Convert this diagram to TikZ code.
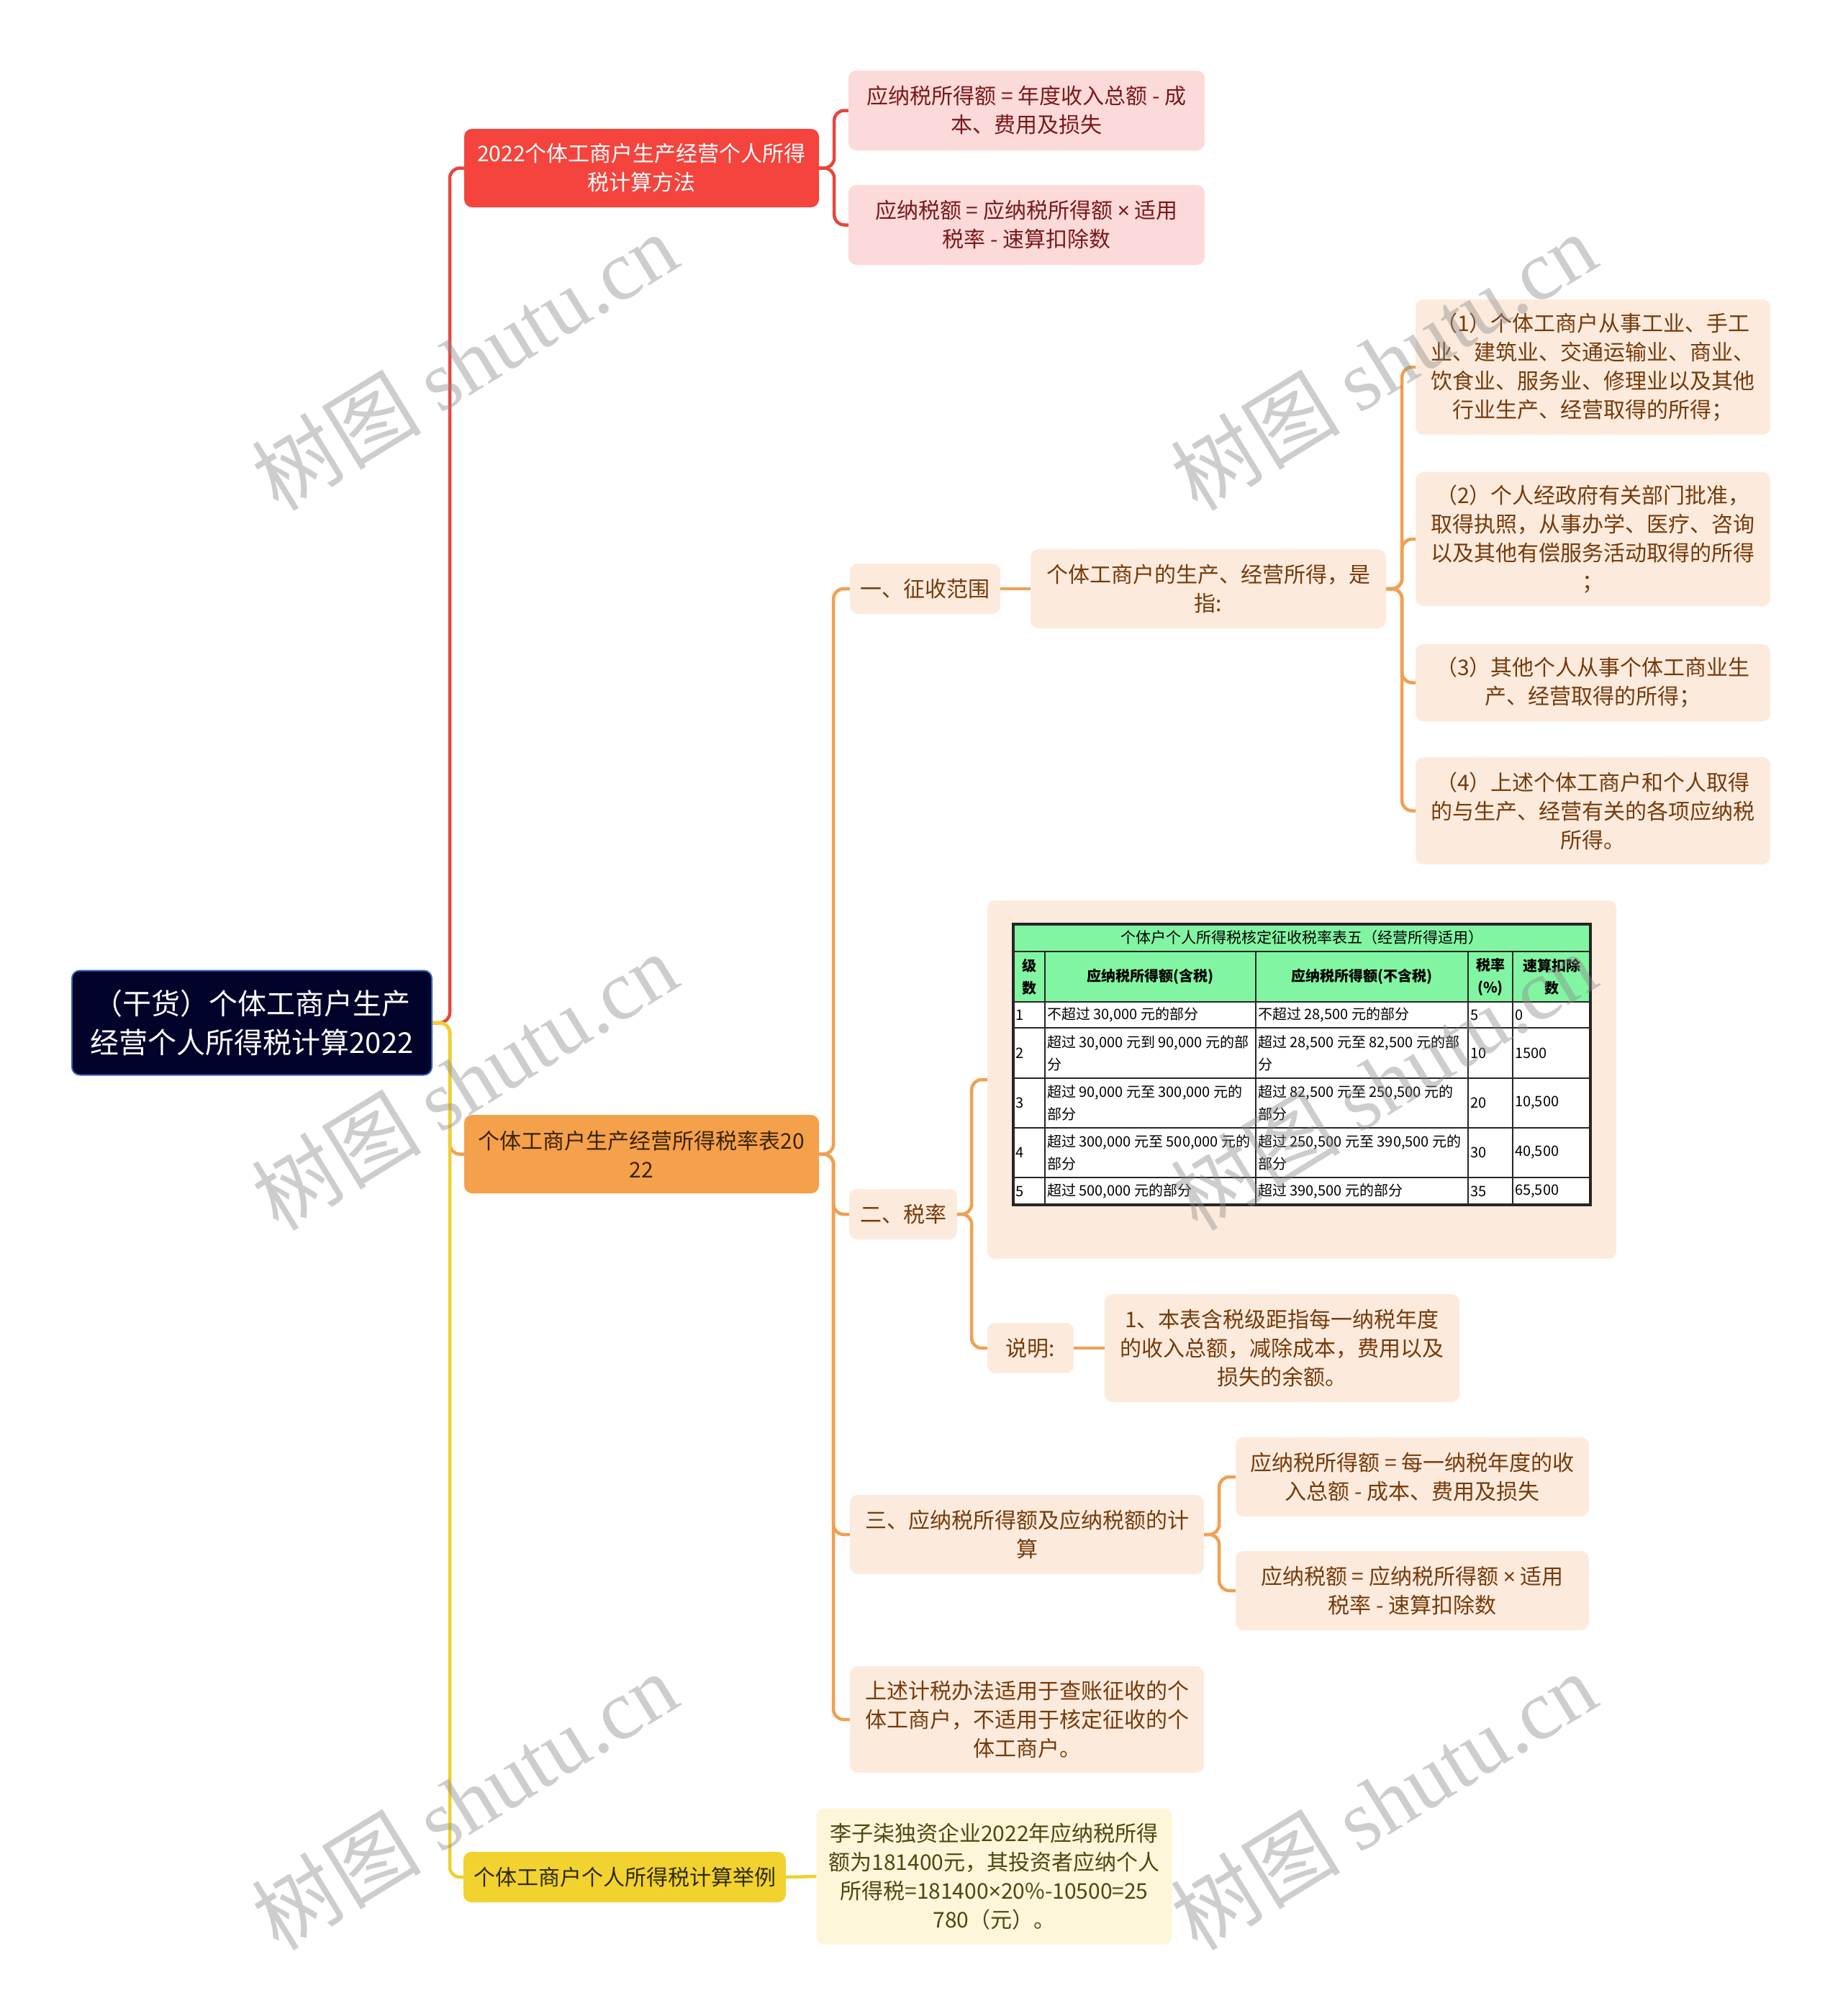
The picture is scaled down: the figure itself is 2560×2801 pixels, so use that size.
\documentclass[tikz,border=0pt]{standalone}
\usepackage{fontspec}
\setmainfont{Noto Sans CJK SC}
\newfontfamily\wmserif{Liberation Serif}
\newfontfamily\latn{Noto Sans}
\definecolor{rootc}{HTML}{02032A}
\definecolor{rootb}{HTML}{3563B8}
\definecolor{redc}{HTML}{F4443D}
\definecolor{redl}{HTML}{E8453E}
\definecolor{pinkc}{HTML}{FDDADA}
\definecolor{pinkt}{HTML}{7A1818}
\definecolor{orgc}{HTML}{F5A04B}
\definecolor{orgl}{HTML}{F0A052}
\definecolor{orgt}{HTML}{3A2308}
\definecolor{peachc}{HTML}{FCEBDC}
\definecolor{peacht}{HTML}{763A0C}
\definecolor{yelc}{HTML}{F2D22E}
\definecolor{yell}{HTML}{EDD12C}
\definecolor{yelt}{HTML}{2E2A05}
\definecolor{ylc}{HTML}{FDF6D8}
\definecolor{ylt}{HTML}{4E4712}
\definecolor{tgreen}{HTML}{82F5A2}
\definecolor{wmgray}{HTML}{8A8A8A}
\tikzset{
  nbox/.style={rounded corners=11pt, align=center, inner sep=0pt, font=\fontsize{30}{40}\selectfont},
  rootbox/.style={nbox, fill=rootc, draw=rootb, line width=2pt, text=white, font=\fontsize{40}{54}\selectfont},
  redbox/.style={nbox, fill=redc, text=white},
  pinkbox/.style={nbox, fill=pinkc, text=pinkt},
  orgbox/.style={nbox, fill=orgc, text=orgt},
  peachbox/.style={nbox, fill=peachc, text=peacht},
  yelbox/.style={nbox, fill=yelc, text=yelt},
  ylbox/.style={nbox, fill=ylc, text=ylt},
  redln/.style={draw=redl, line width=4.5pt, rounded corners=14pt},
  orgln/.style={draw=orgl, line width=4.5pt, rounded corners=14pt},
  yelln/.style={draw=yell, line width=4.5pt, rounded corners=14pt},
  tdat/.style={anchor=west, align=left, inner sep=0pt, text=black, font=\fontsize{20}{31}\selectfont},
  thead/.style={anchor=center, align=center, inner sep=0pt, text=black, font=\bfseries\fontsize{20}{31}\selectfont},
  wm/.style={text=wmgray, opacity=0.42, inner sep=0pt, rotate=31.5, font=\fontsize{118}{118}\selectfont}
}
\begin{document}
\begin{tikzpicture}[x=1pt,y=-1pt]
\useasboundingbox[fill=white] (0,0) rectangle (2560,2801);

% ---------- nodes ----------
\node[rootbox, minimum width=500pt, minimum height=145pt] (root) at (350,1421) {（干货）个体工商户生产\\经营个人所得税计算2022};

\node[redbox, minimum width=493pt, minimum height=109pt] (red) at (891.5,233.5) {2022个体工商户生产经营个人所得\\税计算方法};
\node[pinkbox, minimum width=495pt, minimum height=111pt] (pinkA) at (1426.5,153.5) {应纳税所得额 = 年度收入总额 - 成\\本、费用及损失};
\node[pinkbox, minimum width=495pt, minimum height=111pt] (pinkB) at (1426.5,312.5) {应纳税额 = 应纳税所得额 {\latn ×} 适用\\税率 - 速算扣除数};

\node[orgbox, minimum width=493pt, minimum height=109pt] (org) at (891.5,1603.5) {个体工商户生产经营所得税率表20\\22};

\node[peachbox, minimum width=209pt, minimum height=70pt] (zs) at (1285.5,818) {一、征收范围};
\node[peachbox, minimum width=494pt, minimum height=110pt] (zhi) at (1679,818) {个体工商户的生产、经营所得，是\\指:};
\node[peachbox, minimum width=493pt, minimum height=188pt] (i1) at (2213.5,510) {（1）个体工商户从事工业、手工\\业、建筑业、交通运输业、商业、\\饮食业、服务业、修理业以及其他\\行业生产、经营取得的所得；};
\node[peachbox, minimum width=493pt, minimum height=186pt] (i2) at (2213.5,749) {（2）个人经政府有关部门批准，\\取得执照，从事办学、医疗、咨询\\以及其他有偿服务活动取得的所得\\；};
\node[peachbox, minimum width=493pt, minimum height=107pt] (i3) at (2213.5,948.5) {（3）其他个人从事个体工商业生\\产、经营取得的所得；};
\node[peachbox, minimum width=493pt, minimum height=149pt] (i4) at (2213.5,1126.5) {（4）上述个体工商户和个人取得\\的与生产、经营有关的各项应纳税\\所得。};

\node[peachbox, minimum width=150pt, minimum height=70pt] (sl) at (1255,1687) {二、税率};
\node[peachbox, minimum width=874pt, minimum height=498pt] (tbl) at (1809,1500) {};
\node[peachbox, minimum width=120pt, minimum height=70pt] (sm) at (1432,1873) {说明:};
\node[peachbox, minimum width=493pt, minimum height=150pt] (smc) at (1781.5,1873) {1、本表含税级距指每一纳税年度\\的收入总额，减除成本，费用以及\\损失的余额。};

\node[peachbox, minimum width=492pt, minimum height=110pt] (s3) at (1427,2132) {三、应纳税所得额及应纳税额的计\\算};
\node[peachbox, minimum width=491pt, minimum height=110pt] (s3a) at (1962.5,2052) {应纳税所得额 = 每一纳税年度的收\\入总额 - 成本、费用及损失};
\node[peachbox, minimum width=491pt, minimum height=110pt] (s3b) at (1962.5,2210) {应纳税额 = 应纳税所得额 {\latn ×} 适用\\税率 - 速算扣除数};
\node[peachbox, minimum width=492pt, minimum height=148pt] (s4) at (1427,2389) {上述计税办法适用于查账征收的个\\体工商户，不适用于核定征收的个\\体工商户。};

\node[yelbox, minimum width=448pt, minimum height=70pt] (yel) at (868,2608) {个体工商户个人所得税计算举例};
\node[ylbox, minimum width=494pt, minimum height=189pt] (ych) at (1381.5,2607) {李子柒独资企业2022年应纳税所得\\额为181400元，其投资者应纳个人\\所得税=181400{\latn ×}20\%-10500=25\\780（元）。};

% ---------- connectors ----------
\draw[redln] (root.east) -- ++(24,0) |- (red.west);
\draw[orgln] (root.east) -- ++(24,0) |- (org.west);
\draw[yelln] (root.east) -- ++(24,0) |- (yel.west);

\draw[redln] (red.east) -- ++(21,0) |- (pinkA.west);
\draw[redln] (red.east) -- ++(21,0) |- (pinkB.west);

\draw[orgln] (org.east) -- ++(20,0) |- (zs.west);
\draw[orgln] (org.east) -- ++(20,0) |- (sl.west);
\draw[orgln] (org.east) -- ++(20,0) |- (s3.west);
\draw[orgln] (org.east) -- ++(20,0) |- (s4.west);

\draw[orgln] (zs.east) -- (zhi.west);
\draw[orgln] (zhi.east) -- ++(22,0) |- (i1.west);
\draw[orgln] (zhi.east) -- ++(22,0) |- (i2.west);
\draw[orgln] (zhi.east) -- ++(22,0) |- (i3.west);
\draw[orgln] (zhi.east) -- ++(22,0) |- (i4.west);

\draw[orgln] (sl.east) -- ++(20,0) |- (tbl.west);
\draw[orgln] (sl.east) -- ++(20,0) |- (sm.west);
\draw[orgln] (sm.east) -- (smc.west);

\draw[orgln] (s3.east) -- ++(21,0) |- (s3a.west);
\draw[orgln] (s3.east) -- ++(21,0) |- (s3b.west);

\draw[yelln] (yel.east) -- (ych.west);

% ---------- table ----------
\fill[tgreen] (1408,1284) rectangle (2210,1392);
\fill[white] (1408,1392) rectangle (2210,1674);
\draw[black!85, line width=2.5pt]
  (1408,1322) -- (2210,1322)
  (1408,1392) -- (2210,1392)
  (1408,1428) -- (2210,1428)
  (1408,1498) -- (2210,1498)
  (1408,1567) -- (2210,1567)
  (1408,1636) -- (2210,1636)
  (1452,1322) -- (1452,1674)
  (1745,1322) -- (1745,1674)
  (2040,1322) -- (2040,1674)
  (2102,1322) -- (2102,1674);
\draw[black!85, line width=4pt] (1408,1284) rectangle (2210,1674);

\node[anchor=center, inner sep=0pt, text=black, font=\fontsize{21}{24}\selectfont] (tt) at (1809,1303) {个体户个人所得税核定征收税率表五（经营所得适用）};
\node[thead] (h1) at (1430,1357) {级\\数};
\node[thead] (h2) at (1598.5,1357) {应纳税所得额(含税)};
\node[thead] (h3) at (1892.5,1357) {应纳税所得额(不含税)};
\node[thead] (h4) at (2071,1357) {税率\\(\%)};
\node[thead] (h5) at (2156,1357) {速算扣除\\数};

\node[tdat] (a1) at (1411,1410) {1};
\node[tdat] (b1) at (1455,1410) {不超过 30,000 元的部分};
\node[tdat] (c1) at (1748,1410) {不超过 28,500 元的部分};
\node[tdat] (d1) at (2043,1410) {5};
\node[tdat] (e1) at (2105,1410) {0};

\node[tdat] (a2) at (1411,1463) {2};
\node[tdat] (b2) at (1455,1463) {超过 30,000 元到 90,000 元的部\\分};
\node[tdat] (c2) at (1748,1463) {超过 28,500 元至 82,500 元的部\\分};
\node[tdat] (d2) at (2043,1463) {10};
\node[tdat] (e2) at (2105,1463) {1500};

\node[tdat] (a3) at (1411,1532.5) {3};
\node[tdat] (b3) at (1455,1532.5) {超过 90,000 元至 300,000 元的\\部分};
\node[tdat] (c3) at (1748,1532.5) {超过 82,500 元至 250,500 元的\\部分};
\node[tdat] (d3) at (2043,1532.5) {20};
\node[tdat] (e3) at (2105,1532.5) {10,500};

\node[tdat] (a4) at (1411,1601.5) {4};
\node[tdat] (b4) at (1455,1601.5) {超过 300,000 元至 500,000 元的\\部分};
\node[tdat] (c4) at (1748,1601.5) {超过 250,500 元至 390,500 元的\\部分};
\node[tdat] (d4) at (2043,1601.5) {30};
\node[tdat] (e4) at (2105,1601.5) {40,500};

\node[tdat] (a5) at (1411,1655) {5};
\node[tdat] (b5) at (1455,1655) {超过 500,000 元的部分};
\node[tdat] (c5) at (1748,1655) {超过 390,500 元的部分};
\node[tdat] (d5) at (2043,1655) {35};
\node[tdat] (e5) at (2105,1655) {65,500};

% ---------- watermarks ----------
\node[wm] (wm1) at (645,502) {树图 {\wmserif shutu.cn}};
\node[wm] (wm2) at (1922,502) {树图 {\wmserif shutu.cn}};
\node[wm] (wm3) at (645,1502) {树图 {\wmserif shutu.cn}};
\node[wm] (wm4) at (1922,1502) {树图 {\wmserif shutu.cn}};
\node[wm] (wm5) at (645,2502) {树图 {\wmserif shutu.cn}};
\node[wm] (wm6) at (1922,2502) {树图 {\wmserif shutu.cn}};
\end{tikzpicture}
\end{document}
